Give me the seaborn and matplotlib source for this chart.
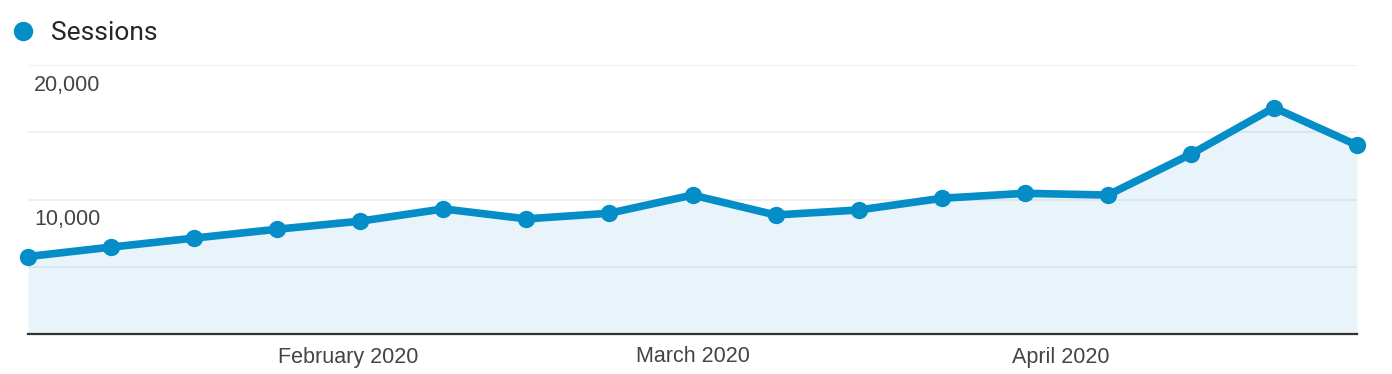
import pandas as pd
import matplotlib
matplotlib.use("Agg")
import matplotlib.pyplot as plt
import matplotlib.dates as mdates
import matplotlib.transforms as mtransforms
from matplotlib.lines import Line2D
import seaborn as sns

# Weekly sessions
week_start = pd.date_range("2020-01-05", periods=17, freq="7D")
sessions = [5760, 6460, 7130, 7790, 8390, 9300, 8560, 8980, 10330,
            8850, 9220, 10090, 10460, 10330, 13370, 16830, 14040]
month_ticks = pd.to_datetime(["2020-02-01", "2020-03-01", "2020-04-01"])
y_major = [10000, 20000]
y_minor = [5000, 15000]

df = pd.DataFrame({"Week": week_start, "Sessions": sessions})

blue = "#058dc7"

sns.set_style("white")
plt.rcParams["font.family"] = ["Liberation Sans", "DejaVu Sans"]

fig = plt.figure(figsize=(13.92, 3.74), dpi=100)
ax = fig.add_axes([28 / 1392, 40 / 374, 1329 / 1392, 269 / 374])

# Area under the line
ax.fill_between(df["Week"], df["Sessions"], 0, color=blue, alpha=0.09,
                linewidth=0, zorder=2)

# Line with markers
sns.lineplot(data=df, x="Week", y="Sessions", ax=ax, color=blue,
             linewidth=5.5, marker="o", markersize=12.5, markeredgewidth=0,
             zorder=3, clip_on=False)

ax.set_xlim(df["Week"].iloc[0], df["Week"].iloc[-1])
ax.set_ylim(0, 20000)

# Gridlines
ax.set_yticks(y_major)
ax.set_yticks(y_minor, minor=True)
ax.grid(axis="y", which="both", color="#f0f0f0", linewidth=1.4, zorder=1)
ax.set_axisbelow(True)

# Y labels sit inside the plot, under their gridline
ax.set_yticklabels([f"{v:,}" for v in y_major])
ax.tick_params(axis="y", which="both", length=0, pad=-4.5,
               labelsize=15.5, labelcolor="#444444")
offset = mtransforms.ScaledTranslation(0, -10 / 100, fig.dpi_scale_trans)
for lab in ax.get_yticklabels():
    lab.set_horizontalalignment("left")
    lab.set_verticalalignment("top")
    lab.set_transform(lab.get_transform() + offset)

# X axis: month labels
ax.set_xticks(month_ticks)
ax.xaxis.set_major_formatter(mdates.DateFormatter("%B %Y"))
ax.tick_params(axis="x", length=0, pad=9, labelsize=15.5, labelcolor="#444444")
ax.set_xlabel("")
ax.set_ylabel("")

for side in ["top", "right", "left"]:
    ax.spines[side].set_visible(False)
ax.spines["bottom"].set_color("#333333")
ax.spines["bottom"].set_linewidth(1.6)
ax.spines["bottom"].set_zorder(4)

# Legend
handle = Line2D([], [], marker="o", linestyle="", color=blue,
                markersize=14, markeredgewidth=0)
fig.legend([handle], ["Sessions"], loc="center left",
           bbox_to_anchor=(-6 / 1392, 1 - 33 / 374), frameon=False,
           handletextpad=0.45, borderpad=0, handlelength=1.2,
           prop={"family": ["Roboto", "DejaVu Sans"], "size": 19})

fig.savefig("out.png", dpi=100)
